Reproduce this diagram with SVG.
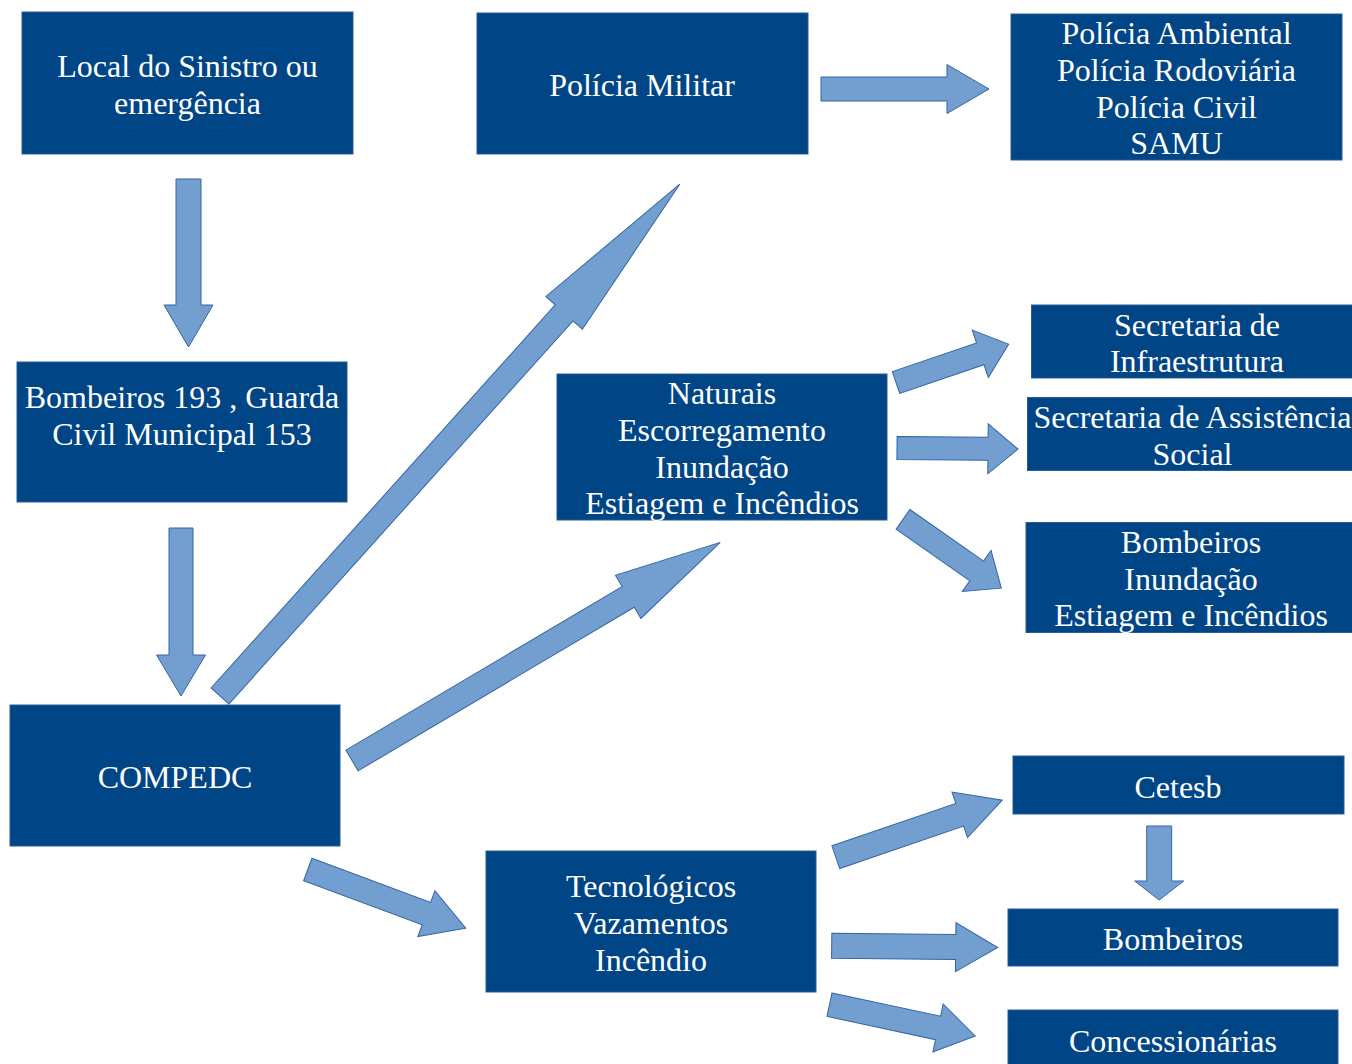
<svg xmlns="http://www.w3.org/2000/svg" width="1352" height="1064" viewBox="0 0 1352 1064">
<style>
.box{fill:#004586;stroke:#2a5d95;stroke-width:1}
.t{font-family:"Liberation Serif","Times New Roman",serif;font-size:32px;fill:#ffffff;text-anchor:middle}
.arr{fill:#729fcf;stroke:#3465a4;stroke-width:1;stroke-linejoin:miter}
</style>
<rect width="1352" height="1064" fill="#ffffff"/>
<g id="connectors">
<polygon class="arr" transform="translate(821,89)" points="0,-12 126,-12 126,-24.5 168,0 126,24.5 126,12 0,12"/>
<polygon class="arr" transform="translate(188.5,179) rotate(90)" points="0,-12.5 126,-12.5 126,-24.5 168,0 126,24.5 126,12.5 0,12.5"/>
<polygon class="arr" transform="translate(181,528) rotate(90)" points="0,-12 127,-12 127,-24.5 168,0 127,24.5 127,12 0,12"/>
<polygon class="arr" transform="translate(220,696) rotate(-48.07)" points="0,-12 515,-12 515,-24.5 688,0 515,24.5 515,12 0,12"/>
<polygon class="arr" transform="translate(352,760.5) rotate(-30.64)" points="0,-12 321,-12 321,-25 428,0 321,25 321,12 0,12"/>
<polygon class="arr" transform="translate(896,382.5) rotate(-18.8)" points="0,-11.5 89,-11.5 89,-25 119,0 89,25 89,11.5 0,11.5"/>
<polygon class="arr" transform="translate(897,448) rotate(0.5)" points="0,-11.5 91,-11.5 91,-25 121,0 91,25 91,11.5 0,11.5"/>
<polygon class="arr" transform="translate(903,519.3) rotate(35)" points="0,-12 90,-12 90,-25 120,0 90,25 90,12 0,12"/>
<polygon class="arr" transform="translate(835.8,857.2) rotate(-18.9)" points="0,-12 131,-12 131,-24 176,0 131,24 131,12 0,12"/>
<polygon class="arr" transform="translate(831.7,945.8) rotate(0.6)" points="0,-12.5 124,-12.5 124,-24.5 166,0 124,24.5 124,12.5 0,12.5"/>
<polygon class="arr" transform="translate(829.5,1004.7) rotate(12.1)" points="0,-12 111,-12 111,-24.5 149,0 111,24.5 111,12 0,12"/>
<polygon class="arr" transform="translate(307.8,869.5) rotate(20.4)" points="0,-12 126.5,-12 126.5,-24.5 168.5,0 126.5,24.5 126.5,12 0,12"/>
<polygon class="arr" transform="translate(1159.2,826) rotate(90)" points="0,-12.5 55,-12.5 55,-24.5 74,0 55,24.5 55,12.5 0,12.5"/>
</g>
<g id="local">
<rect class="box" x="22" y="12" width="331" height="142"/>
<text class="t" x="187.5" y="77">Local do Sinistro ou</text>
<text class="t" x="187.5" y="114">emergência</text>
</g>
<g id="policia-militar">
<rect class="box" x="477" y="13" width="331" height="141"/>
<text class="t" x="642" y="96">Polícia Militar</text>
</g>
<g id="policias">
<rect class="box" x="1011" y="14" width="331" height="146"/>
<text class="t" x="1176.5" y="44">Polícia Ambiental</text>
<text class="t" x="1176.5" y="81">Polícia Rodoviária</text>
<text class="t" x="1176.5" y="117.5">Polícia Civil</text>
<text class="t" x="1176.5" y="154">SAMU</text>
</g>
<g id="bombeiros193">
<rect class="box" x="17" y="362" width="330" height="140"/>
<text class="t" x="182" y="408">Bombeiros 193 , Guarda</text>
<text class="t" x="182" y="445">Civil Municipal 153</text>
</g>
<g id="naturais">
<rect class="box" x="557" y="374" width="330" height="146"/>
<text class="t" x="722" y="404">Naturais</text>
<text class="t" x="722" y="441">Escorregamento</text>
<text class="t" x="722" y="477.5">Inundação</text>
<text class="t" x="722" y="514">Estiagem e Incêndios</text>
</g>
<g id="sec-infra">
<rect class="box" x="1031.5" y="305" width="331" height="73"/>
<text class="t" x="1197" y="336">Secretaria de</text>
<text class="t" x="1197" y="372">Infraestrutura</text>
</g>
<g id="sec-social">
<rect class="box" x="1027.5" y="397.5" width="329" height="73"/>
<text class="t" x="1192.5" y="428">Secretaria de Assistência</text>
<text class="t" x="1192.5" y="465">Social</text>
</g>
<g id="bombeiros-inundacao">
<rect class="box" x="1026" y="522.5" width="330" height="110"/>
<text class="t" x="1191" y="553">Bombeiros</text>
<text class="t" x="1191" y="589.7">Inundação</text>
<text class="t" x="1191" y="626.3">Estiagem e Incêndios</text>
</g>
<g id="compedc">
<rect class="box" x="10" y="705" width="330" height="141"/>
<text class="t" x="175" y="788">COMPEDC</text>
</g>
<g id="tecnologicos">
<rect class="box" x="486" y="851" width="330" height="141"/>
<text class="t" x="651" y="897">Tecnológicos</text>
<text class="t" x="651" y="934">Vazamentos</text>
<text class="t" x="651" y="971">Incêndio</text>
</g>
<g id="cetesb">
<rect class="box" x="1013" y="756" width="331" height="58"/>
<text class="t" x="1178" y="798">Cetesb</text>
</g>
<g id="bombeiros">
<rect class="box" x="1008" y="909" width="330" height="57"/>
<text class="t" x="1173" y="950">Bombeiros</text>
</g>
<g id="concessionarias">
<rect class="box" x="1008" y="1010" width="330" height="60"/>
<text class="t" x="1173" y="1052">Concessionárias</text>
</g>
</svg>
